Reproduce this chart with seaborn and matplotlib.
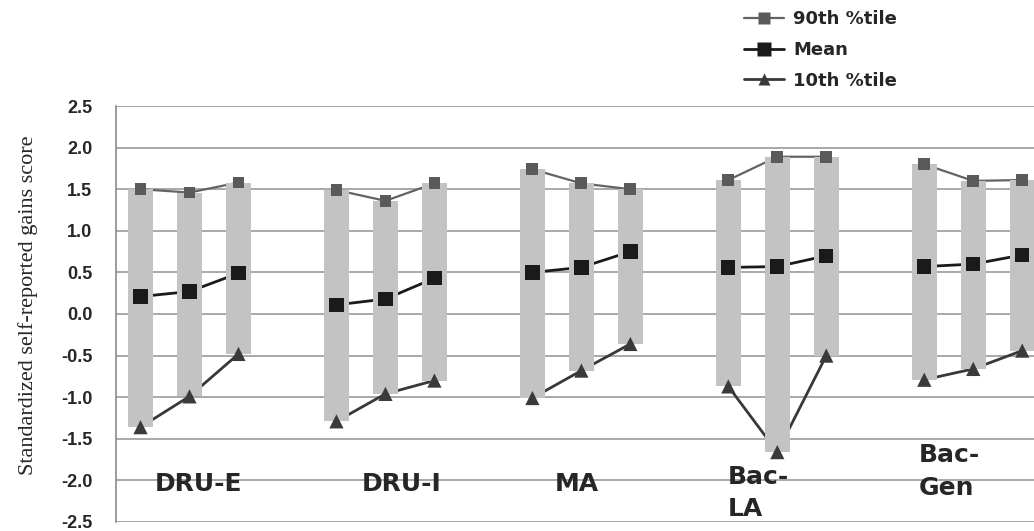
import numpy as np
import pandas as pd
import matplotlib
matplotlib.use("Agg")
import matplotlib.pyplot as plt
from matplotlib.lines import Line2D
import seaborn as sns

# Data (three bars per programme)
groups = ["DRU-E", "DRU-I", "MA", "Bac-LA", "Bac-Gen"]
group_labels = ["DRU-E", "DRU-I", "MA", "Bac-\nLA", "Bac-\nGen"]
p90 = [[1.50, 1.46, 1.58], [1.49, 1.36, 1.57], [1.74, 1.57, 1.50],
       [1.61, 1.89, 1.89], [1.80, 1.60, 1.61]]
mean = [[0.21, 0.27, 0.49], [0.11, 0.18, 0.43], [0.50, 0.56, 0.75],
        [0.56, 0.57, 0.70], [0.57, 0.60, 0.71]]
p10 = [[-1.36, -0.99, -0.48], [-1.29, -0.96, -0.80], [-1.01, -0.68, -0.36],
       [-0.87, -1.66, -0.50], [-0.79, -0.66, -0.44]]
yticks = [2.5, 2.0, 1.5, 1.0, 0.5, 0.0, -0.5, -1.0, -1.5, -2.0, -2.5]

# label anchor (slot index, y value)
label_x = [0.30, 4.52, 8.46, 11.98, 15.88]
label_y = [-2.04, -2.04, -2.04, -2.15, -1.89]

sns.set_style("white")
plt.rcParams["font.family"] = ["Liberation Sans", "DejaVu Sans"]
wide_font = ["DejaVu Sans"]

# long table: 4 slots per group, 3 used
rows = []
for g, name in enumerate(groups):
    for j in range(3):
        rows.append({"group": name, "x": 4 * g + j,
                     "p90": p90[g][j], "mean": mean[g][j], "p10": p10[g][j]})
df = pd.DataFrame(rows)
long = df.melt(id_vars=["group", "x"], value_vars=["p90", "mean", "p10"],
               var_name="series", value_name="value")

line_col = {"p90": "#636363", "mean": "#1a1a1a", "p10": "#383838"}
mark_col = {"p90": "#5a5a5a", "mean": "#1a1a1a", "p10": "#3a3a3a"}
markers = {"p90": "s", "mean": "s", "p10": "^"}
msize = {"p90": 72, "mean": 106, "p10": 105}
lw = {"p90": 1.6, "mean": 2.0, "p10": 2.0}

fig = plt.figure(figsize=(10.34, 5.31), dpi=100)
ax = fig.add_axes([116 / 1034, 9 / 531, 918 / 1034, 416 / 531])

# lines first (bars sit on top of them)
for s in ["p90", "mean", "p10"]:
    sub = long[long["series"] == s]
    sns.lineplot(data=sub, x="x", y="value", units="group", estimator=None,
                 color=line_col[s], linewidth=lw[s], ax=ax, zorder=2,
                 legend=False)

ax.bar(df["x"], df["p90"] - df["p10"], bottom=df["p10"], width=0.52,
       color="#c3c3c3", zorder=3, linewidth=0)

for s in ["p90", "mean", "p10"]:
    sub = long[long["series"] == s]
    sns.scatterplot(data=sub, x="x", y="value", marker=markers[s],
                    s=msize[s], color=mark_col[s], edgecolor="none",
                    ax=ax, zorder=4, legend=False)

for t, xx, yy in zip(group_labels, label_x, label_y):
    ax.text(xx, yy, t, ha="left", va="center", fontsize=18, family=wide_font,
            fontweight="bold", linespacing=1.45, zorder=5)

ax.set_xlim(-0.5, 18.24)
ax.set_ylim(-2.5, 2.5)
ax.set_yticks(yticks)
ax.set_yticklabels([f"{v:.1f}" for v in yticks], fontsize=13, fontweight="bold")
ax.set_xticks([])
ax.tick_params(axis="y", length=0, pad=17)
ax.grid(axis="y", color="#9a9a9a", linewidth=1.2, zorder=0)
ax.set_axisbelow(True)
for side in ["top", "right", "bottom"]:
    ax.spines[side].set_visible(False)
ax.spines["left"].set_color("#8a8a8a")
ax.spines["left"].set_linewidth(1.2)
ax.set_xlabel("")
ax.set_ylabel("Standardized self-reported gains score",
              family=["Liberation Serif", "DejaVu Serif"], fontsize=16)
ax.yaxis.set_label_coords(-0.085, 0.52)

handles = [
    Line2D([], [], color=line_col["p90"], lw=lw["p90"], marker="s",
           markersize=8, markerfacecolor=mark_col["p90"], markeredgecolor="none"),
    Line2D([], [], color=line_col["mean"], lw=lw["mean"], marker="s",
           markersize=10, markerfacecolor=mark_col["mean"], markeredgecolor="none"),
    Line2D([], [], color=line_col["p10"], lw=lw["p10"], marker="^",
           markersize=9, markerfacecolor=mark_col["p10"], markeredgecolor="none"),
]
fig.legend(handles, ["90th %tile", "Mean", "10th %tile"],
           loc="upper left", bbox_to_anchor=(728 / 1034, 1 + 6 / 531),
           frameon=False, prop={"weight": "bold", "size": 13, "family": wide_font},
           handlelength=2.2, handletextpad=0.5, labelspacing=0.7)

fig.savefig("out.png", dpi=100)
